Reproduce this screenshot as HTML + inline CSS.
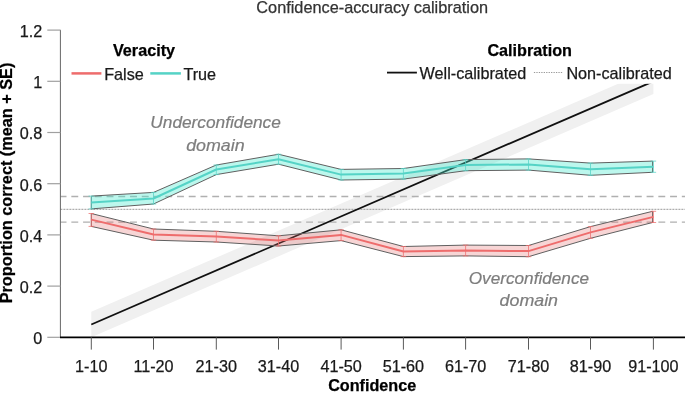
<!DOCTYPE html>
<html><head><meta charset="utf-8"><style>
html,body{margin:0;padding:0;background:#fff;width:685px;height:393px;overflow:hidden}
svg{display:block;will-change:transform}
.t{font-family:"Liberation Sans",sans-serif;font-size:16.2px;fill:#1a1a1a;stroke:#1a1a1a;stroke-width:0.25px}
.b{font-weight:bold;fill:#000;stroke:#000}
.a{font-family:"Liberation Sans",sans-serif;font-style:italic;font-size:17px;fill:#7d7d7d;stroke:#7d7d7d;stroke-width:0.2px}
</style></head><body>
<svg width="685" height="393" viewBox="0 0 685 393">
<rect width="685" height="393" fill="#fff"/>
<polygon points="91.3,311.7 653.4,68.5 653.4,94.1 91.3,337.3" fill="#f0f0f0"/>
<line x1="60.4" y1="196.5" x2="685" y2="196.5" stroke="#b0b0b0" stroke-width="1.3" stroke-dasharray="6.9 4.84" stroke-dashoffset="0.8"/>
<line x1="60.4" y1="222.1" x2="685" y2="222.1" stroke="#b0b0b0" stroke-width="1.3" stroke-dasharray="6.9 4.84" stroke-dashoffset="0.8"/>
<line x1="60.4" y1="209.3" x2="685" y2="209.3" stroke="#999" stroke-width="1" stroke-dasharray="2 1"/>
<line x1="91.3" y1="324.5" x2="653.4" y2="81.3" stroke="#111" stroke-width="1.8"/>
<polygon points="91.3,213.5 153.5,229 216.3,231.3 278.5,235.8 341.1,229.8 403.4,246.5 465.6,245.1 528.5,245.5 590.5,226.6 652.6,211.3 652.6,222.5 590.5,238.3 528.5,256.7 465.6,255.9 403.4,256.6 341.1,240.6 278.5,246 216.3,242 153.5,240.2 91.3,226.4" fill="rgba(225,100,100,0.27)" stroke="#606060" stroke-width="1"/>
<polyline points="91.3,219.6 153.5,234.5 216.3,236.4 278.5,240.6 341.1,234.9 403.4,251.5 465.6,250.5 528.5,251.1 590.5,232.4 653.4,216.9" fill="none" stroke="#ee6c6c" stroke-width="2" stroke-linejoin="round"/>
<path d="M91.3 213.5V226.4M88.55 213.5H94.05M88.55 226.4H94.05" stroke="#ee6c6c" stroke-width="1" stroke-opacity="0.75" fill="none"/>
<path d="M153.5 229V240.2M150.75 229H156.25M150.75 240.2H156.25" stroke="#ee6c6c" stroke-width="1" stroke-opacity="0.75" fill="none"/>
<path d="M216.3 231.3V242M213.55 231.3H219.05M213.55 242H219.05" stroke="#ee6c6c" stroke-width="1" stroke-opacity="0.75" fill="none"/>
<path d="M278.5 235.8V246M275.75 235.8H281.25M275.75 246H281.25" stroke="#ee6c6c" stroke-width="1" stroke-opacity="0.75" fill="none"/>
<path d="M341.1 229.8V240.6M338.35 229.8H343.85M338.35 240.6H343.85" stroke="#ee6c6c" stroke-width="1" stroke-opacity="0.75" fill="none"/>
<path d="M403.4 246.5V256.6M400.65 246.5H406.15M400.65 256.6H406.15" stroke="#ee6c6c" stroke-width="1" stroke-opacity="0.75" fill="none"/>
<path d="M465.6 245.1V255.9M462.85 245.1H468.35M462.85 255.9H468.35" stroke="#ee6c6c" stroke-width="1" stroke-opacity="0.75" fill="none"/>
<path d="M528.5 245.5V256.7M525.75 245.5H531.25M525.75 256.7H531.25" stroke="#ee6c6c" stroke-width="1" stroke-opacity="0.75" fill="none"/>
<path d="M590.5 226.6V238.3M587.75 226.6H593.25M587.75 238.3H593.25" stroke="#ee6c6c" stroke-width="1" stroke-opacity="0.75" fill="none"/>
<path d="M653.4 211.3V222.5M650.65 211.3H656.15M650.65 222.5H656.15" stroke="#ee6c6c" stroke-width="1" stroke-opacity="0.75" fill="none"/>

<polygon points="91.3,196.1 153.5,192.4 216.3,165 278.5,154.25 341.1,169.4 403.4,168.5 465.6,159.6 528.5,158.9 590.5,163.1 652.6,161.1 652.6,172.3 590.5,175.3 528.5,170.1 465.6,170.7 403.4,179.1 341.1,180 278.5,164.2 216.3,174.6 153.5,204 91.3,208.9" fill="rgba(74,233,206,0.37)" stroke="#606060" stroke-width="1"/>
<polyline points="91.3,202.6 153.5,198.5 216.3,169.5 278.5,159.3 341.1,174.6 403.4,173.6 465.6,164.9 528.5,164.5 590.5,169.2 653.4,166.7" fill="none" stroke="#55d3c6" stroke-width="2" stroke-linejoin="round"/>
<path d="M91.3 196.1V208.9M88.55 196.1H94.05M88.55 208.9H94.05" stroke="#55d3c6" stroke-width="1" stroke-opacity="0.75" fill="none"/>
<path d="M153.5 192.4V204M150.75 192.4H156.25M150.75 204H156.25" stroke="#55d3c6" stroke-width="1" stroke-opacity="0.75" fill="none"/>
<path d="M216.3 165V174.6M213.55 165H219.05M213.55 174.6H219.05" stroke="#55d3c6" stroke-width="1" stroke-opacity="0.75" fill="none"/>
<path d="M278.5 154.25V164.2M275.75 154.25H281.25M275.75 164.2H281.25" stroke="#55d3c6" stroke-width="1" stroke-opacity="0.75" fill="none"/>
<path d="M341.1 169.4V180M338.35 169.4H343.85M338.35 180H343.85" stroke="#55d3c6" stroke-width="1" stroke-opacity="0.75" fill="none"/>
<path d="M403.4 168.5V179.1M400.65 168.5H406.15M400.65 179.1H406.15" stroke="#55d3c6" stroke-width="1" stroke-opacity="0.75" fill="none"/>
<path d="M465.6 159.6V170.7M462.85 159.6H468.35M462.85 170.7H468.35" stroke="#55d3c6" stroke-width="1" stroke-opacity="0.75" fill="none"/>
<path d="M528.5 158.9V170.1M525.75 158.9H531.25M525.75 170.1H531.25" stroke="#55d3c6" stroke-width="1" stroke-opacity="0.75" fill="none"/>
<path d="M590.5 163.1V175.3M587.75 163.1H593.25M587.75 175.3H593.25" stroke="#55d3c6" stroke-width="1" stroke-opacity="0.75" fill="none"/>
<path d="M653.4 161.1V172.3M650.65 161.1H656.15M650.65 172.3H656.15" stroke="#55d3c6" stroke-width="1" stroke-opacity="0.75" fill="none"/>

<line x1="60.4" y1="29.9" x2="60.4" y2="337.3" stroke="#666" stroke-width="1"/>
<line x1="47.3" y1="30.1" x2="60.4" y2="30.1" stroke="#a0a0a0" stroke-width="1.2"/>
<text x="42.3" y="36.9" text-anchor="end" class="t">1.2</text>
<line x1="47.3" y1="81.3" x2="60.4" y2="81.3" stroke="#a0a0a0" stroke-width="1.2"/>
<text x="42.3" y="88.1" text-anchor="end" class="t">1</text>
<line x1="47.3" y1="132.5" x2="60.4" y2="132.5" stroke="#a0a0a0" stroke-width="1.2"/>
<text x="42.3" y="139.3" text-anchor="end" class="t">0.8</text>
<line x1="47.3" y1="183.7" x2="60.4" y2="183.7" stroke="#a0a0a0" stroke-width="1.2"/>
<text x="42.3" y="190.5" text-anchor="end" class="t">0.6</text>
<line x1="47.3" y1="234.9" x2="60.4" y2="234.9" stroke="#a0a0a0" stroke-width="1.2"/>
<text x="42.3" y="241.7" text-anchor="end" class="t">0.4</text>
<line x1="47.3" y1="286.1" x2="60.4" y2="286.1" stroke="#a0a0a0" stroke-width="1.2"/>
<text x="42.3" y="292.9" text-anchor="end" class="t">0.2</text>
<line x1="47.3" y1="337.3" x2="60.4" y2="337.3" stroke="#a0a0a0" stroke-width="1.2"/>
<text x="42.3" y="344.1" text-anchor="end" class="t">0</text>
<line x1="60" y1="337.3" x2="685" y2="337.3" stroke="#000" stroke-width="1.8"/>
<line x1="91.3" y1="337.3" x2="91.3" y2="349.6" stroke="#5a5a5a" stroke-width="1"/>
<text x="91.3" y="371.6" text-anchor="middle" class="t">1-10</text>
<line x1="153.5" y1="337.3" x2="153.5" y2="349.6" stroke="#5a5a5a" stroke-width="1"/>
<text x="153.5" y="371.6" text-anchor="middle" class="t">11-20</text>
<line x1="216.3" y1="337.3" x2="216.3" y2="349.6" stroke="#5a5a5a" stroke-width="1"/>
<text x="216.3" y="371.6" text-anchor="middle" class="t">21-30</text>
<line x1="278.5" y1="337.3" x2="278.5" y2="349.6" stroke="#5a5a5a" stroke-width="1"/>
<text x="278.5" y="371.6" text-anchor="middle" class="t">31-40</text>
<line x1="341.1" y1="337.3" x2="341.1" y2="349.6" stroke="#5a5a5a" stroke-width="1"/>
<text x="341.1" y="371.6" text-anchor="middle" class="t">41-50</text>
<line x1="403.4" y1="337.3" x2="403.4" y2="349.6" stroke="#5a5a5a" stroke-width="1"/>
<text x="403.4" y="371.6" text-anchor="middle" class="t">51-60</text>
<line x1="465.6" y1="337.3" x2="465.6" y2="349.6" stroke="#5a5a5a" stroke-width="1"/>
<text x="465.6" y="371.6" text-anchor="middle" class="t">61-70</text>
<line x1="528.5" y1="337.3" x2="528.5" y2="349.6" stroke="#5a5a5a" stroke-width="1"/>
<text x="528.5" y="371.6" text-anchor="middle" class="t">71-80</text>
<line x1="590.5" y1="337.3" x2="590.5" y2="349.6" stroke="#5a5a5a" stroke-width="1"/>
<text x="590.5" y="371.6" text-anchor="middle" class="t">81-90</text>
<line x1="653.4" y1="337.3" x2="653.4" y2="349.6" stroke="#5a5a5a" stroke-width="1"/>
<text x="653.4" y="371.6" text-anchor="middle" class="t">91-100</text>
<rect x="380" y="34" width="305" height="49.8" fill="#fff"/>
<text x="372.2" y="12.5" text-anchor="middle" class="t" style="font-size:16.3px;fill:#333;stroke:#333">Confidence-accuracy calibration</text>
<text x="372.2" y="391.3" text-anchor="middle" class="t b">Confidence</text>
<text transform="translate(12.3,183) rotate(-90)" style="font-size:16.25px" text-anchor="middle" class="t b">Proportion correct (mean + SE)</text>
<text x="144" y="56.2" text-anchor="middle" class="t b">Veracity</text>
<line x1="71.5" y1="73.4" x2="101.4" y2="73.4" stroke="#ee6c6c" stroke-width="2.5"/>
<text x="104.2" y="79.9" class="t">False</text>
<line x1="150.3" y1="73.4" x2="180.9" y2="73.4" stroke="#55d3c6" stroke-width="2.5"/>
<text x="183.4" y="79.9" class="t">True</text>
<text x="529.7" y="56.1" text-anchor="middle" class="t b">Calibration</text>
<line x1="387" y1="72.6" x2="416.9" y2="72.6" stroke="#111" stroke-width="1.8"/>
<text x="419.6" y="78.5" class="t">Well-calibrated</text>
<line x1="533.9" y1="72.5" x2="563.2" y2="72.5" stroke="#999" stroke-width="1" stroke-dasharray="1.3 1.15"/>
<text x="566.4" y="78.5" class="t">Non-calibrated</text>
<text x="215.6" y="128.2" text-anchor="middle" class="a" textLength="130.5" lengthAdjust="spacingAndGlyphs">Underconfidence</text>
<text x="215.4" y="151" text-anchor="middle" class="a" textLength="58.5" lengthAdjust="spacingAndGlyphs">domain</text>
<text x="528.9" y="283.8" text-anchor="middle" class="a" textLength="120.3" lengthAdjust="spacingAndGlyphs">Overconfidence</text>
<text x="528.8" y="305.8" text-anchor="middle" class="a" textLength="58.5" lengthAdjust="spacingAndGlyphs">domain</text>
</svg>
</body></html>
